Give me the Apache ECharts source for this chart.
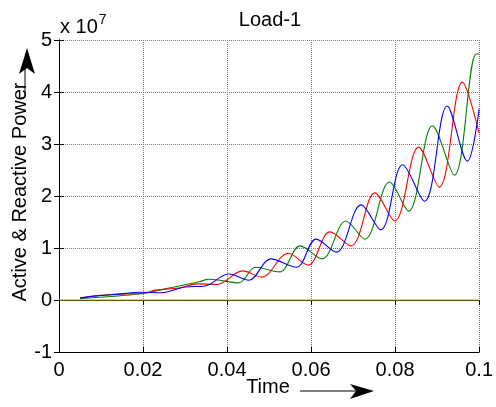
<!DOCTYPE html>
<html>
<head>
<meta charset="utf-8">
<script src="https://cdn.jsdelivr.net/npm/echarts@6/dist/echarts.min.js"></script>
<style>html,body{margin:0;padding:0;background:#fff}#c{width:496px;height:407px}</style>
</head>
<body>
<div id="c"></div>
<script>
// values in units of 1e7
var xTicks = [0, 0.02, 0.04, 0.06, 0.08, 0.1];
var yTicks = [-1, 0, 1, 2, 3, 4, 5];

var blueSeries = [
  [0.005,0.04],[0.009,0.08],[0.0128,0.10],[0.0196,0.15],[0.0243,0.14],[0.030,0.25],[0.0348,0.27],
  [0.0404,0.50],[0.0452,0.38],[0.0504,0.79],[0.0565,0.63],[0.0612,1.17],[0.0660,0.92],
  [0.0719,1.83],[0.0766,1.35],[0.0818,2.60],[0.0870,1.90],[0.0924,3.73],[0.0972,2.67],[0.1,3.67]
];
var redSeries = [
  [0.005,0.04],[0.0128,0.11],[0.0203,0.13],[0.0229,0.19],[0.0286,0.23],[0.0329,0.31],[0.0376,0.30],
  [0.0437,0.56],[0.0482,0.44],[0.0546,0.90],[0.0593,0.67],[0.0645,1.31],[0.0695,1.04],
  [0.0752,2.06],[0.0799,1.52],[0.0856,2.94],[0.0905,2.17],[0.0960,4.19],[0.1,3.21]
];
var greenSeries = [
  [0.005,0.03],[0.0196,0.12],[0.0262,0.23],[0.0333,0.35],[0.0357,0.40],[0.0428,0.33],
  [0.0468,0.63],[0.0525,0.54],[0.0574,1.04],[0.0626,0.79],[0.0683,1.52],[0.0728,1.17],
  [0.0787,2.27],[0.0832,1.71],[0.0889,3.35],[0.0941,2.40],[0.0993,4.73],[0.1,4.73]
];
var zeroSeries = [[0,0],[0.1,0]];

var chart = echarts.init(document.getElementById('c'), null, {renderer:'canvas'});
var FONT = 'Liberation Sans, Arial, sans-serif';
var fmtX = function(v){ return String(parseFloat(v.toFixed(3))); };

var gridLine = {show:true, lineStyle:{color:'#777', type:[1,1], width:1}};
function lineSeries(data, color, xi, yi){
  return {type:'line', data:data, showSymbol:false, symbol:'none', smooth:0.35,
    lineStyle:{color:color, width:1.1}, itemStyle:{color:color}, animation:false,
    xAxisIndex:0, yAxisIndex:0};
}

chart.setOption({
  animation:false,
  backgroundColor:'#fff',
  grid:{left:59, right:14, top:40, bottom:55},
  xAxis:[{
    type:'value', min:xTicks[0], max:xTicks[xTicks.length-1], interval:0.02,
    axisLine:{onZero:false, lineStyle:{color:'#000', width:1}},
    axisTick:{inside:true, length:5, lineStyle:{color:'#000'}},
    axisLabel:{color:'#000', fontSize:20, fontFamily:FONT, margin:8, formatter:fmtX},
    splitLine:gridLine
  },{
    type:'value', position:'top', min:0, max:0.1, interval:0.02,
    axisLine:{show:true, lineStyle:{color:'#000', width:1}},
    axisTick:{inside:true, length:5, lineStyle:{color:'#000'}},
    axisLabel:{show:false}, splitLine:{show:false}
  }],
  yAxis:[{
    type:'value', min:yTicks[0], max:yTicks[yTicks.length-1], interval:1,
    axisLine:{show:true, onZero:false, lineStyle:{color:'#000', width:1}},
    axisTick:{show:true, inside:true, length:5, lineStyle:{color:'#000'}},
    axisLabel:{color:'#000', fontSize:20, fontFamily:FONT, margin:7},
    splitLine:gridLine
  },{
    type:'value', position:'right', min:-1, max:5, interval:1,
    axisLine:{show:true, lineStyle:{color:'#000', width:1}},
    axisTick:{show:true, inside:true, length:5, lineStyle:{color:'#000'}},
    axisLabel:{show:false}, splitLine:{show:false}
  }],
  series:[
    {type:'line', data:zeroSeries, symbol:'none', lineStyle:{color:'#b8ac00', width:1}, animation:false},
    lineSeries(greenSeries, '#008000'),
    lineSeries(redSeries, '#ff0000'),
    lineSeries(blueSeries, '#0000ff')
  ],
  graphic:[
    {type:'text', x:270, y:20, style:{text:'Load-1', font:'20px '+FONT, fill:'#000', textAlign:'center', textVerticalAlign:'middle'}},
    {type:'text', x:60, y:27, style:{text:'{a|x 10}{s|7}', textVerticalAlign:'middle', rich:{
      a:{font:'20px '+FONT, fill:'#000', color:'#000'},
      s:{font:'14px '+FONT, fill:'#000', color:'#000', verticalAlign:'top', padding:[0,0,14,1]}
    }}},
    {type:'text', x:20, y:192, rotation:Math.PI/2, style:{text:'Active & Reactive Power', font:'20px '+FONT, fill:'#000', textAlign:'center', textVerticalAlign:'middle'}},
    {type:'line', shape:{x1:25, y1:97, x2:25, y2:62}, style:{stroke:'#000', lineWidth:1}},
    {type:'polygon', shape:{points:[[27,48],[19,74],[27,68],[35,74]]}, style:{fill:'#000'}},
    {type:'text', x:268, y:387, style:{text:'Time', font:'20px '+FONT, fill:'#000', textAlign:'center', textVerticalAlign:'middle'}},
    {type:'line', shape:{x1:300, y1:391, x2:360, y2:391}, style:{stroke:'#000', lineWidth:1}},
    {type:'polygon', shape:{points:[[374,391],[350,384],[356,391],[350,399]]}, style:{fill:'#000'}}
  ]
});
</script>
</body>
</html>
